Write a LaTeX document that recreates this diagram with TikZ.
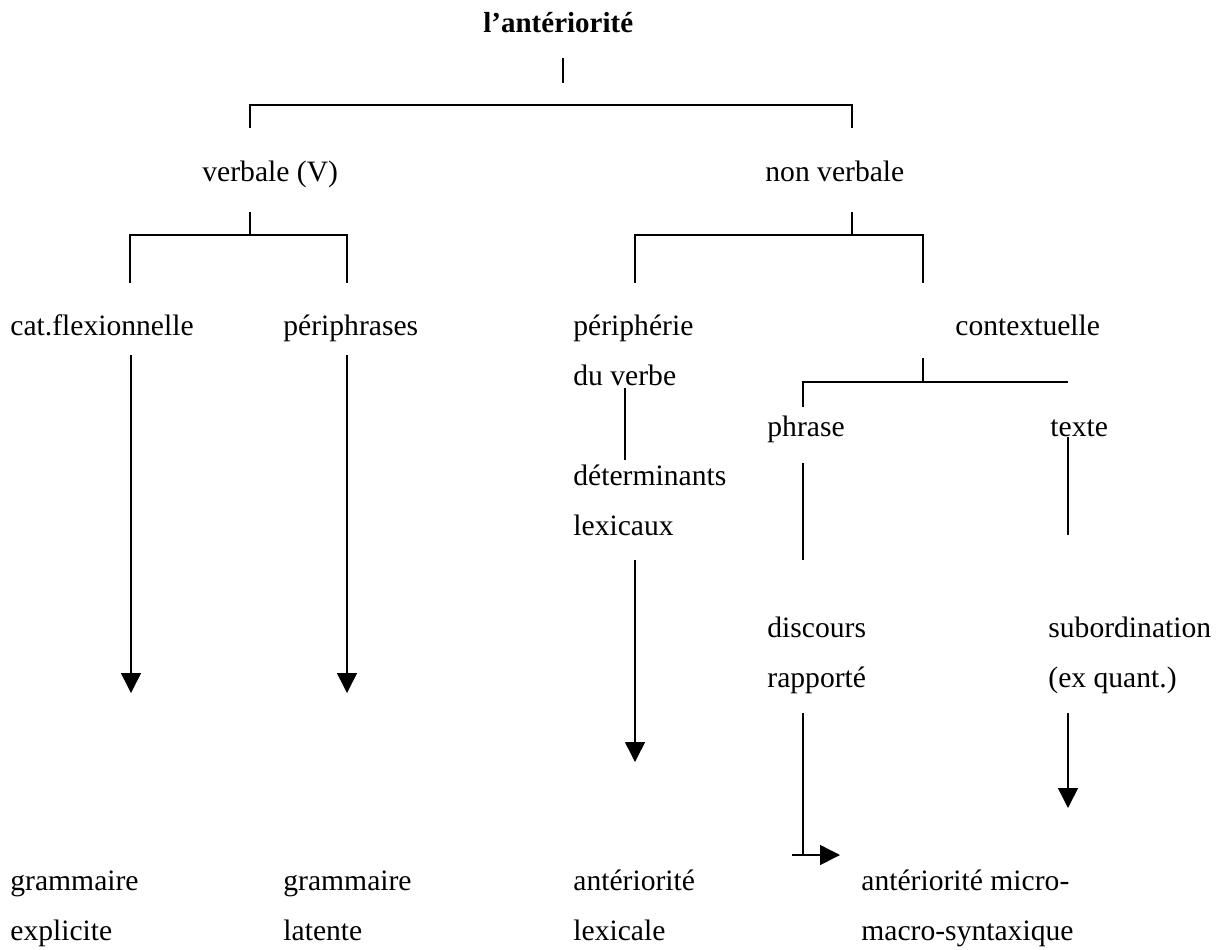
\documentclass[tikz,border=0pt]{standalone}
\usepackage{fontspec}
\setmainfont{Liberation Serif}
\usetikzlibrary{arrows.meta}
\tikzset{
  lbl/.style={anchor=base west, inner sep=0pt, font=\fontsize{14.8}{25}\selectfont},
  ln/.style={line width=0.75pt},
  arr/.style={line width=0.75pt, -{Triangle[length=10pt,width=10pt]}}
}
\begin{document}
\begin{tikzpicture}[x=0.5pt,y=-0.5pt]
\useasboundingbox (0,0) rectangle (1221,949);
\node[lbl,font=\fontsize{14.5}{25}\selectfont\bfseries] (ant) at (483,32) {l’antériorité};
\node[lbl] (verb) at (202,181) {verbale (V)};
\node[lbl] (nverb) at (765,181) {non verbale};
\node[lbl] (flex) at (10,335) {cat.flexionnelle};
\node[lbl] (peri) at (283,335) {périphrases};
\node[lbl] (pv1) at (573,335) {périphérie};
\node[lbl] (pv2) at (573,385) {du verbe};
\node[lbl] (ctx) at (955,335) {contextuelle};
\node[lbl] (phr) at (767,436) {phrase};
\node[lbl] (txt) at (1050,436) {texte};
\node[lbl] (det1) at (573,485) {déterminants};
\node[lbl] (det2) at (573,535) {lexicaux};
\node[lbl] (disc1) at (767,637) {discours};
\node[lbl] (disc2) at (767,687) {rapporté};
\node[lbl] (sub1) at (1048,637) {subordination};
\node[lbl] (sub2) at (1048,687) {(ex quant.)};
\node[lbl] (gr1) at (10,890) {grammaire};
\node[lbl] (gr2) at (10,940) {explicite};
\node[lbl] (gl1) at (283,890) {grammaire};
\node[lbl] (gl2) at (283,940) {latente};
\node[lbl] (al1) at (573,890) {antériorité};
\node[lbl] (al2) at (573,940) {lexicale};
\node[lbl] (am1) at (861,890) {antériorité micro-};
\node[lbl] (am2) at (861,940) {macro-syntaxique};

\coordinate (s0a) at (563,58);   \coordinate (s0b) at (563,83);
\coordinate (b0l) at (250,128);  \coordinate (b0r) at (852,128);
\coordinate (s1a) at (250,212);  \coordinate (s1b) at (250,235);
\coordinate (b1l) at (130,283);  \coordinate (b1r) at (347,283);
\coordinate (s2a) at (852,212);  \coordinate (s2b) at (852,235);
\coordinate (b2l) at (635,283);  \coordinate (b2r) at (923,283);
\coordinate (s3a) at (923,358);  \coordinate (s3b) at (923,382);
\coordinate (b3l) at (803,407);  \coordinate (b3r) at (1068,382);

\draw[ln] (s0a) -- (s0b);
\draw[ln] (b0l) |- (563,105) -| (b0r);
\draw[ln] (s1a) -- (s1b);
\draw[ln] (b1l) |- (s1b) -| (b1r);
\draw[ln] (s2a) -- (s2b);
\draw[ln] (b2l) |- (s2b) -| (b2r);
\draw[ln] (s3a) -- (s3b);
\draw[ln] (b3l) |- (b3r);

\coordinate (f0) at (131,355);   \coordinate (f1) at (131,693);
\coordinate (p0) at (347,355);   \coordinate (p1) at (347,693);
\coordinate (v0) at (625,388);   \coordinate (v1) at (625,460);
\coordinate (l0) at (635,560);   \coordinate (l1) at (635,762);
\coordinate (h0) at (803,463);   \coordinate (h1) at (803,560);
\coordinate (x0) at (1068,437);  \coordinate (x1) at (1068,535);
\coordinate (d0) at (803,713);   \coordinate (d1) at (803,855);
\coordinate (e0) at (792,855);   \coordinate (e1) at (840,855);
\coordinate (q0) at (1068,713);  \coordinate (q1) at (1068,808);

\draw[arr] (f0) -- (f1);
\draw[arr] (p0) -- (p1);
\draw[ln] (v0) -- (v1);
\draw[arr] (l0) -- (l1);
\draw[ln] (h0) -- (h1);
\draw[ln] (x0) -- (x1);
\draw[ln] (d0) -- (d1);
\draw[arr] (e0) -- (e1);
\draw[arr] (q0) -- (q1);
\end{tikzpicture}
\end{document}
